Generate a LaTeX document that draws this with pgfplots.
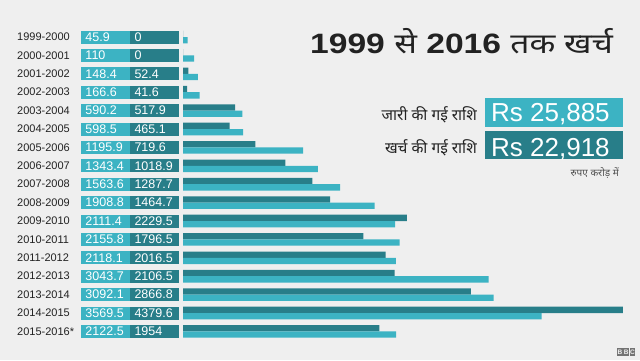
\documentclass[border=0pt]{standalone}
\usepackage{fontspec}
\setmainfont{Liberation Sans}
\newfontfamily\deva[Script=Devanagari]{Noto Sans}
\usepackage{pgfplots}
\usepackage{pgfplotstable}
\pgfplotsset{compat=1.18}
\definecolor{bg}{HTML}{EFEFEF}
\definecolor{darkt}{HTML}{287E89}
\definecolor{lightt}{HTML}{3CB3C3}
\definecolor{txt}{HTML}{222222}

\pgfplotstableread{
idx year rel spent
0 1999-2000 45.9 0
1 2000-2001 110 0
2 2001-2002 148.4 52.4
3 2002-2003 166.6 41.6
4 2003-2004 590.2 517.9
5 2004-2005 598.5 465.1
6 2005-2006 1195.9 719.6
7 2006-2007 1343.4 1018.9
8 2007-2008 1563.6 1287.7
9 2008-2009 1908.8 1464.7
10 2009-2010 2111.4 2229.5
11 2010-2011 2155.8 1796.5
12 2011-2012 2118.1 2016.5
13 2012-2013 3043.7 2106.5
14 2013-2014 3092.1 2866.8
15 2014-2015 3569.5 4379.6
16 2015-2016* 2122.5 1954
}\data

\begin{document}
\begin{tikzpicture}
\fill[bg] (0,0) rectangle (640pt,360pt);
\begin{axis}[
  at={(183pt,341.4pt)}, anchor=north west,
  scale only axis, width=452pt, height=331.2pt,
  xmin=0, xmax=4500, ymin=-1, ymax=17, y dir=reverse,
  hide axis, clip=false,
]
\addplot[xbar, bar width=6.3pt, bar shift=3.15pt, fill=darkt, draw=none] table[x=spent, y=idx]{\data};
\addplot[xbar, bar width=6.3pt, bar shift=-3.15pt, fill=lightt, draw=none] table[x=rel, y=idx]{\data};
% year labels
\addplot[draw=none, mark=none, nodes near coords, point meta=explicit symbolic,
  every node near coord/.append style={anchor=west, xshift=-166pt,
    font=\fontsize{11}{12}\selectfont, text=txt, inner sep=0pt}]
  table[x expr=0, y=idx, meta=year]{\data};
% released value boxes
\addplot[draw=none, mark=none, nodes near coords, point meta=explicit symbolic,
  every node near coord/.append style={anchor=center, xshift=-77.5pt,
    font=\fontsize{12.5}{13}\selectfont, text=white, fill=lightt,
    text width=40pt, align=left, inner xsep=4.5pt, inner ysep=0pt,
    minimum height=13pt, text depth=0pt}]
  table[x expr=0, y=idx, meta=rel]{\data};
% spent value boxes
\addplot[draw=none, mark=none, nodes near coords, point meta=explicit symbolic,
  every node near coord/.append style={anchor=center, xshift=-28.5pt,
    font=\fontsize{12.5}{13}\selectfont, text=white, fill=darkt,
    text width=40pt, align=left, inner xsep=4.5pt, inner ysep=0pt,
    minimum height=13pt, text depth=0pt}]
  table[x expr=0, y=idx, meta=spent]{\data};
\end{axis}
% title
\node[anchor=base west, inner sep=0pt, text=txt, font=\fontsize{28}{30}\selectfont]
  at (310pt,307pt) {\scalebox{1.2}[1]{\bfseries 1999 {\mdseries\deva से} 2016 {\mdseries\deva तक खर्च}}};
% legend
\fill[lightt] (485pt,262pt) rectangle (623pt,233pt);
\fill[darkt] (485pt,229pt) rectangle (623pt,201pt);
\node[anchor=base west, inner sep=0pt, text=white, font=\fontsize{26}{28}\selectfont]
  at (491pt,239pt) {Rs 25,885};
\node[anchor=base west, inner sep=0pt, text=white, font=\fontsize{26}{28}\selectfont]
  at (491pt,203.5pt) {Rs 22,918};
\node[anchor=base east, inner sep=0pt, text=txt, font=\deva\fontsize{15.5}{17}\selectfont]
  at (477pt,240pt) {जारी की गई राशि};
\node[anchor=base east, inner sep=0pt, text=txt, font=\deva\fontsize{15.5}{17}\selectfont]
  at (477pt,207pt) {खर्च की गई राशि};
\node[anchor=base east, inner sep=0pt, text=txt!80, font=\deva\fontsize{10}{11}\selectfont]
  at (619pt,183.5pt) {रुपए करोड़ में};
% BBC blocks
\foreach \i/\l in {0/B,1/B,2/C}{
  \node[anchor=center, inner sep=0pt, fill=black!55, minimum width=5.6pt, minimum height=8pt,
        text=bg, font=\bfseries\fontsize{6.5}{7}\selectfont]
    at ({620pt+\i*6.2pt},8pt) {\l};
}
\pgfresetboundingbox
\useasboundingbox (0,0) rectangle (640pt,360pt);
\end{tikzpicture}
\end{document}
